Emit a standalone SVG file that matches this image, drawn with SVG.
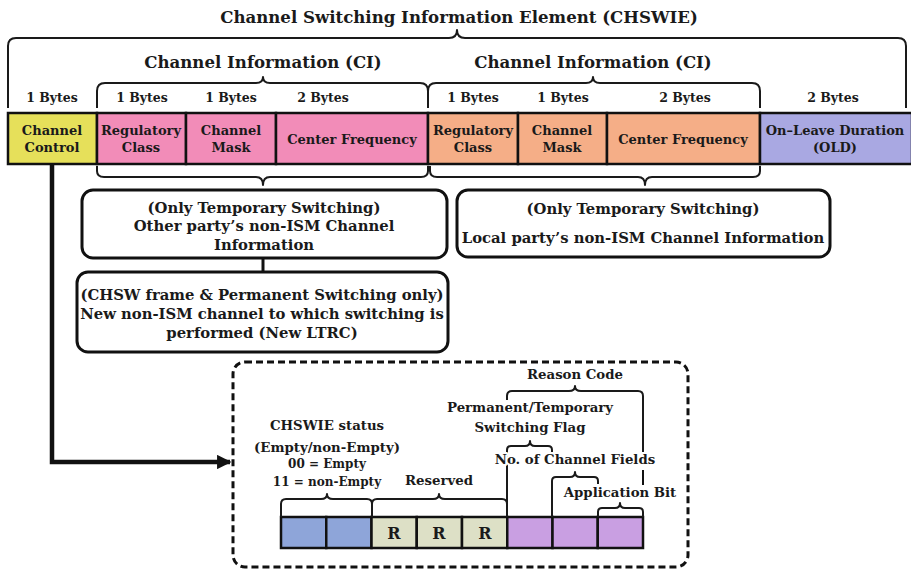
<svg xmlns="http://www.w3.org/2000/svg" width="911" height="569" viewBox="0 0 911 569">
<style>
text{font-family:"DejaVu Serif","Liberation Serif",serif;font-weight:bold;fill:#1a1a1a;text-anchor:middle}
.t{font-size:16.6px}
.b{font-size:12.5px}
.f{font-size:13px}
.x{font-size:14.8px}
.d{font-size:13.3px;paint-order:stroke;stroke:#fff;stroke-width:4px;stroke-linejoin:round}
.s{font-size:12px}
.r{font-size:16px}
.br{fill:none;stroke:#1a1a1a;stroke-width:2;stroke-linejoin:round}
.cell{stroke:#111;stroke-width:2.5}
.box{fill:#fff;stroke:#111;stroke-width:3}
.ln{fill:none;stroke:#111;stroke-width:2}
</style>
<defs>
<marker id="ah" viewBox="0 0 10 10" refX="9" refY="5" markerWidth="3.2" markerHeight="3.2" orient="auto" markerUnits="strokeWidth">
<path d="M0,0 L10,5 L0,10 z" fill="#111"/>
</marker>
</defs>
<rect width="911" height="569" fill="#fff"/>

<g id="title">
<text class="t" x="459" y="23">Channel Switching Information Element (CHSWIE)</text>
<path class="br" d="M8,108 L8,46 Q8,38 16,38 L449,38 Q457,38 457,30 Q457,38 465,38 L898,38 Q906,38 906,46 L906,108"/>
</g>

<g id="ci1-label">
<text class="t" x="263" y="68">Channel Information (CI)</text>
<path class="br" d="M97,108 L97,91 Q97,83 105,83 L256,83 Q263,83 263,77 Q263,83 270,83 L420,83 Q428,83 428,91 L428,108"/>
</g>
<g id="ci2-label">
<text class="t" x="593" y="68">Channel Information (CI)</text>
<path class="br" d="M428,108 L428,91 Q428,83 436,83 L586,83 Q593,83 593,77 Q593,83 600,83 L752,83 Q760,83 760,91 L760,108"/>
</g>

<g id="bytes">
<text class="b" x="52" y="102">1 Bytes</text>
<text class="b" x="142" y="102">1 Bytes</text>
<text class="b" x="231" y="102">1 Bytes</text>
<text class="b" x="323" y="102">2 Bytes</text>
<text class="b" x="473" y="102">1 Bytes</text>
<text class="b" x="563" y="102">1 Bytes</text>
<text class="b" x="685" y="102">2 Bytes</text>
<text class="b" x="833" y="102">2 Bytes</text>
</g>

<g id="channel-control">
<rect class="cell" x="8" y="113" width="89" height="51" fill="#E6E05A"/>
<text class="f" x="52" y="135">Channel</text>
<text class="f" x="52" y="152">Control</text>
</g>
<g id="ci1-regulatory-class">
<rect class="cell" x="97" y="113" width="89" height="51" fill="#F28CB8"/>
<text class="f" x="141" y="135">Regulatory</text>
<text class="f" x="141" y="152">Class</text>
</g>
<g id="ci1-channel-mask">
<rect class="cell" x="186" y="113" width="90" height="51" fill="#F28CB8"/>
<text class="f" x="231" y="135">Channel</text>
<text class="f" x="231" y="152">Mask</text>
</g>
<g id="ci1-center-frequency">
<rect class="cell" x="276" y="113" width="152" height="51" fill="#F28CB8"/>
<text class="f" x="352" y="144">Center Frequency</text>
</g>
<g id="ci2-regulatory-class">
<rect class="cell" x="428" y="113" width="90" height="51" fill="#F5AE87"/>
<text class="f" x="473" y="135">Regulatory</text>
<text class="f" x="473" y="152">Class</text>
</g>
<g id="ci2-channel-mask">
<rect class="cell" x="518" y="113" width="89" height="51" fill="#F5AE87"/>
<text class="f" x="562" y="135">Channel</text>
<text class="f" x="562" y="152">Mask</text>
</g>
<g id="ci2-center-frequency">
<rect class="cell" x="607" y="113" width="153" height="51" fill="#F5AE87"/>
<text class="f" x="683" y="144">Center Frequency</text>
</g>
<g id="old">
<rect class="cell" x="760" y="113" width="152" height="51" fill="#A9A8E2"/>
<text class="f" x="835" y="135">On–Leave Duration</text>
<text class="f" x="835" y="152">(OLD)</text>
</g>

<g id="connectors">
<path class="br" d="M97,166 L97,171 Q97,177 104,177 L256,177 Q263,177 263,185 Q263,177 270,177 L421,177 Q428,177 428,171 L428,166"/>
<path class="br" d="M430,166 L430,171 Q430,177 437,177 L638,177 Q645,177 645,185 Q645,177 652,177 L753,177 Q760,177 760,171 L760,166"/>
<line x1="263" y1="258" x2="263" y2="272" stroke="#111" stroke-width="3"/>
<path d="M52,164 L52,462 L230,462" fill="none" stroke="#111" stroke-width="4.5" marker-end="url(#ah)"/>
</g>

<g id="other-party-box">
<rect class="box" x="82" y="190" width="365" height="68" rx="11"/>
<text class="x" x="264" y="213">(Only Temporary Switching)</text>
<text class="x" x="264" y="231">Other party’s non-ISM Channel</text>
<text class="x" x="264" y="250">Information</text>
</g>
<g id="new-ltrc-box">
<rect class="box" x="77" y="272" width="371" height="80" rx="11"/>
<text class="x" x="262" y="300">(CHSW frame &amp; Permanent Switching only)</text>
<text class="x" x="262" y="319">New non-ISM channel to which switching is</text>
<text class="x" x="262" y="338">performed (New LTRC)</text>
</g>
<g id="local-party-box">
<rect class="box" x="457" y="190" width="373" height="67" rx="11"/>
<text class="x" x="643" y="214">(Only Temporary Switching)</text>
<text class="x" x="643" y="243">Local party’s non-ISM Channel Information</text>
</g>

<g id="channel-control-detail">
<rect x="233" y="362" width="455" height="205" rx="12" fill="none" stroke="#111" stroke-width="3" stroke-dasharray="7 4"/>
<g id="bits">
<rect class="cell" x="281" y="517" width="45.25" height="31" fill="#8EA5D9"/>
<rect class="cell" x="326.25" y="517" width="45.25" height="31" fill="#8EA5D9"/>
<rect class="cell" x="371.5" y="517" width="45.25" height="31" fill="#DDE0C6"/>
<rect class="cell" x="416.75" y="517" width="45.25" height="31" fill="#DDE0C6"/>
<rect class="cell" x="462" y="517" width="45.25" height="31" fill="#DDE0C6"/>
<rect class="cell" x="507.25" y="517" width="45.25" height="31" fill="#C99FE2"/>
<rect class="cell" x="552.5" y="517" width="45.25" height="31" fill="#C99FE2"/>
<rect class="cell" x="597.75" y="517" width="45.25" height="31" fill="#C99FE2"/>
<text class="r" x="394" y="539">R</text>
<text class="r" x="439" y="539">R</text>
<text class="r" x="485" y="539">R</text>
</g>
<g id="bit-braces">
<path class="br" d="M281,517 L281,504 Q281,499 286,499 L321,499 Q327,499 327,494 Q327,499 333,499 L367,499 Q372,499 372,504 L372,517"/>
<path class="br" d="M372,517 L372,504 Q372,499 377,499 L433,499 Q439,499 439,494 Q439,499 445,499 L502,499 Q507,499 507,504 L507,517"/>
<path class="br" d="M507,400 L507,396 Q507,391 512,391 L569,391 Q575,391 575,386 Q575,391 581,391 L638,391 Q643,391 643,396 L643,452"/>
<line class="ln" x1="643" y1="470" x2="643" y2="485"/>
<path class="br" d="M507,517 L507,450 Q507,446 511,446 L525,446 Q530,446 530,441 Q530,446 535,446 L548,446 Q552,446 552,450 L552,452"/>
<path class="br" d="M552,517 L552,481 Q552,477 556,477 L570,477 Q575,477 575,472 Q575,477 580,477 L594,477 Q598,477 598,481 L598,484"/>
<path class="br" d="M598,517 L598,512 Q598,508 602,508 L615,508 Q620,508 620,503 Q620,508 625,508 L639,508 Q643,508 643,512 L643,517"/>
</g>
<text class="d" x="575" y="379">Reason Code</text>
<text class="d" x="530" y="412">Permanent/Temporary</text>
<text class="d" x="530" y="432">Switching Flag</text>
<text class="d" x="575" y="464">No. of Channel Fields</text>
<text class="d" x="620" y="497">Application Bit</text>
<text class="d" x="327" y="430">CHSWIE status</text>
<text class="d" x="327" y="452">(Empty/non-Empty)</text>
<text class="s" x="327" y="468">00 = Empty</text>
<text class="s" x="327" y="486">11 = non-Empty</text>
<text class="d" x="439" y="485">Reserved</text>
</g>
</svg>
